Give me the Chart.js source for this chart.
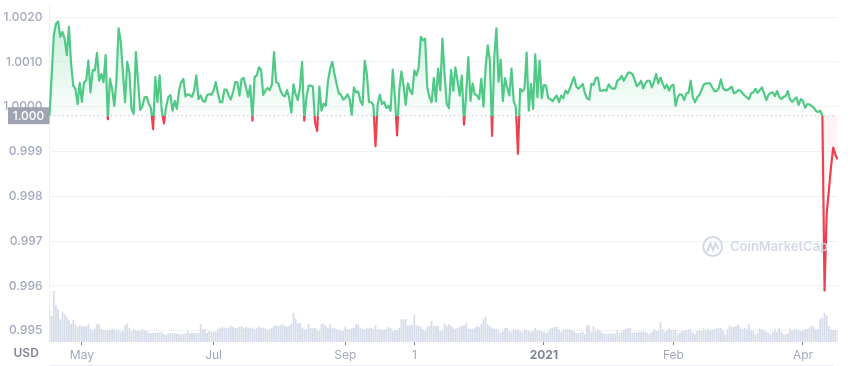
<!DOCTYPE html>
<html>
<head>
<meta charset="utf-8">
<title>USD price chart</title>
<script src="https://cdn.jsdelivr.net/npm/chart.js@4"></script>
<style>
  html, body { margin: 0; padding: 0; background: #fff; }
  canvas { display: block; }
</style>
</head>
<body>
<canvas id="priceChart" width="851" height="366"></canvas>
<script>
// -----------------------------
// Data (one value per day)
// -----------------------------
const prices = [
  0.99980,1.00070,1.00160,1.00185,1.00190,1.00156,1.00167,1.00152,1.00115,1.00178,1.00096,
  1.00047,1.00040,1.00006,1.00053,1.00011,1.00055,1.00058,1.00103,1.00032,1.00082,
  1.00081,1.00120,1.00058,1.00073,1.00055,1.00115,0.99972,1.00062,1.00040,1.00002,
  1.00058,1.00175,1.00145,1.00077,1.00010,1.00100,1.00077,0.99995,0.99984,1.00122,
  1.00058,0.99993,1.00000,1.00021,1.00022,1.00006,0.99997,0.99950,1.00066,1.00010,
  1.00070,0.99991,0.99963,0.99999,1.00021,1.00026,0.99991,1.00013,0.99995,1.00036,
  1.00055,1.00062,1.00023,1.00028,1.00026,1.00022,1.00036,1.00070,1.00017,1.00025,
  1.00013,1.00011,1.00026,1.00028,1.00027,1.00036,1.00055,1.00030,1.00010,1.00010,
  1.00038,1.00038,1.00025,1.00016,1.00032,1.00055,1.00055,1.00025,1.00062,1.00064,
  1.00043,1.00022,1.00047,0.99969,1.00066,1.00070,1.00088,1.00082,1.00026,1.00036,
  1.00042,1.00037,1.00049,1.00122,1.00055,1.00052,1.00036,1.00026,1.00023,1.00037,
  1.00021,
  0.99987,1.00050,1.00028,1.00015,1.00043,1.00100,0.99969,1.00021,1.00047,1.00047,
  1.00045,0.99965,0.99946,1.00045,0.99991,1.00007,1.00002,1.00058,1.00085,1.00100,
  1.00073,1.00051,1.00030,1.00027,1.00016,1.00019,1.00028,1.00017,0.99982,1.00043,
  1.00032,1.00034,1.00013,1.00004,1.00103,1.00073,1.00010,1.00010,1.00004,0.99912,
  1.00006,1.00027,1.00006,1.00011,0.99997,1.00002,0.99991,1.00083,1.00021,0.99936,
  1.00036,1.00079,1.00047,1.00004,1.00052,1.00036,1.00028,1.00081,1.00070,1.00088,
  1.00156,1.00148,1.00152,1.00043,1.00021,1.00010,1.00064,1.00012,1.00085,1.00037,
  1.00152,1.00073,1.00006,0.99997,1.00082,1.00036,1.00088,1.00058,1.00025,1.00070,
  0.99960,1.00028,1.00111,1.00013,1.00052,1.00028,1.00025,1.00017,1.00062,1.00000,
  1.00088,1.00137,1.00103,0.99935,1.00111,1.00175,1.00056,1.00105,1.00013,1.00064,
  1.00042,1.00025,1.00085,1.00013,0.99999,0.99895,1.00040,1.00034,1.00040,1.00121,
  0.99991,1.00051,0.99995,1.00117,1.00021,1.00103,1.00019,1.00049,1.00047,1.00019,
  1.00017,1.00012,1.00019,1.00025,1.00010,1.00025,1.00019,1.00036,1.00030,1.00040,
  1.00055,
  1.00066,1.00045,1.00040,1.00045,1.00051,1.00030,1.00019,1.00016,1.00051,1.00049,
  1.00064,1.00065,1.00036,1.00036,1.00037,1.00036,1.00050,1.00043,1.00040,1.00041,
  1.00058,1.00061,1.00069,1.00058,1.00067,1.00076,1.00076,1.00073,1.00061,1.00046,
  1.00050,1.00058,1.00041,1.00052,1.00058,1.00058,1.00043,1.00056,1.00073,1.00052,
  1.00065,1.00052,1.00041,1.00049,1.00036,1.00047,1.00049,1.00002,1.00022,1.00028,
  1.00026,1.00015,1.00030,1.00031,1.00058,1.00021,1.00010,1.00021,1.00026,1.00037,
  1.00049,1.00052,1.00052,1.00052,1.00043,1.00035,1.00035,1.00041,1.00061,1.00041,
  1.00037,1.00037,1.00041,1.00045,1.00030,1.00032,1.00037,1.00036,1.00030,1.00025,
  1.00021,1.00017,1.00030,1.00032,1.00040,1.00031,1.00037,1.00043,1.00030,1.00015,
  1.00026,1.00031,1.00032,1.00024,1.00035,1.00022,1.00017,1.00022,1.00024,1.00035,
  1.00016,1.00011,1.00016,1.00021,1.00004,1.00017,1.00013,0.99998,1.00006,1.00005,
  1.00002,0.99998,0.99991,0.99988,0.99991,0.99980,
  0.99590,0.99762,0.99813,0.99866,0.99909,0.99893,0.99883
];

// volume in arbitrary units, the picture has no scale for it
const volumes = [
  94,77,152,109,97,67,90,82,74,64,
  54,65,52,44,49,47,46,46,52,39,
  32,39,52,52,39,35,35,35,36,39,
  37,34,35,30,32,49,55,42,32,37,
  35,32,32,37,35,32,27,25,27,27,
  29,27,30,22,20,25,25,25,25,24,
  22,22,22,25,32,25,27,27,25,25,
  52,37,37,27,32,29,30,30,37,40,
  45,42,42,42,47,45,40,42,44,47,
  40,45,42,42,42,37,40,45,42,42,
  40,35,37,42,47,49,47,49,52,47,
  45,47,
  52,87,69,55,55,42,37,37,54,42,
  40,42,35,32,54,54,47,42,52,40,
  40,37,35,35,32,45,37,37,40,42,
  52,52,40,39,37,42,40,42,37,49,
  37,37,35,35,37,45,40,32,35,35,
  42,67,67,67,47,49,50,82,49,47,
  45,37,32,45,47,62,47,47,47,32,
  32,55,47,52,47,42,39,42,44,47,
  49,57,39,39,39,42,47,44,52,67,
  75,52,47,42,39,39,35,27,32,40,
  42,32,29,37,35,37,32,29,37,35,
  32,30,32,42,34,34,30,29,25,30,
  40,42,44,45,37,29,35,37,37,37,
  35,32,25,25,29,29,22,49,49,29,
  47,32,37,32,27,24,22,24,24,25,
  24,34,27,30,35,39,40,42,27,29,
  27,29,29,32,30,27,24,29,37,32,
  32,59,37,29,34,40,35,35,35,22,
  27,32,32,35,37,37,27,22,32,32,
  32,42,35,37,35,35,37,40,40,42,
  34,22,37,49,44,44,47,52,44,37,
  42,37,52,34,32,22,27,39,37,32,
  30,27,22,29,39,29,42,29,22,22,
  25,39,32,37,37,35,32,35,37,37,
  42,49,44,37,37,67,72,87,77,47,
  37,35,35,35
];

const xTickDays = [15, 76, 137, 169, 229, 289, 349];
const xTickLabels = ['May', 'Jul', 'Sep', '1', '2021', 'Feb', 'Apr'];
const yTickValues = [0.995, 0.996, 0.997, 0.998, 0.999, 1.000, 1.001, 1.002];
const yTickLabels = ['0.995', '0.996', '0.997', '0.998', '0.999', '1.0000', '1.0010', '1.0020'];
const baseValue = 0.9998;
const baseLabel = '1.000';
const currencyLabel = 'USD';
const watermarkLabel = 'CoinMarketCap';

// -----------------------------
// Colours and fonts
// -----------------------------
const GREEN = '#50c987';
const RED = '#ee4150';
const GRID = '#eff2f5';
const TICK_TEXT = '#a3a9bc';
const FONT = 'Inter, "Noto Sans", sans-serif';

// one label per day, empty unless the day has a tick
const days = prices.map((_, i) => {
  const at = xTickDays.indexOf(i);
  return at === -1 ? '' : xTickLabels[at];
});

// -----------------------------
// Extras drawn on top: dotted base line, price box, USD, bottom rule, watermark
// -----------------------------
const overlayPlugin = {
  id: 'overlay',
  afterDraw(chart) {
    const { ctx, chartArea, scales } = chart;
    const baseY = scales.y.getPixelForValue(baseValue);
    ctx.save();

    // dotted base line
    ctx.strokeStyle = '#a6adbd';
    ctx.lineWidth = 1;
    ctx.setLineDash([1, 3.4]);
    ctx.beginPath();
    ctx.moveTo(chartArea.left, baseY);
    ctx.lineTo(chartArea.right, baseY);
    ctx.stroke();
    ctx.setLineDash([]);

    // price box on the axis
    ctx.fillStyle = '#a0a4b2';
    ctx.fillRect(8, baseY - 8.5, chartArea.left - 8, 17);
    ctx.fillStyle = '#fff';
    ctx.font = '500 12px ' + FONT;
    ctx.textAlign = 'center';
    ctx.textBaseline = 'middle';
    ctx.fillText(baseLabel, 28.5, baseY + 0.5);

    // currency
    ctx.fillStyle = '#808699';
    ctx.font = '600 12px ' + FONT;
    ctx.textAlign = 'left';
    ctx.fillText(currencyLabel, 13.5, 353);

    // faint rule along the bottom of the page
    ctx.strokeStyle = '#e9edf3';
    ctx.beginPath();
    ctx.moveTo(50, 365.5);
    ctx.lineTo(833, 365.5);
    ctx.stroke();

    // watermark
    ctx.strokeStyle = '#d3d9e6';
    ctx.lineWidth = 2;
    ctx.beginPath();
    ctx.arc(712.7, 246.5, 9.5, 0, Math.PI * 2);
    ctx.stroke();
    ctx.beginPath();
    ctx.moveTo(707, 251.5);
    ctx.lineTo(710.5, 243.5);
    ctx.lineTo(713, 250);
    ctx.lineTo(715.5, 243.5);
    ctx.lineTo(718.5, 249);
    ctx.stroke();
    ctx.fillStyle = '#d3d9e6';
    ctx.font = '600 13px ' + FONT;
    ctx.fillText(watermarkLabel, 730, 247.5);

    ctx.restore();
  }
};

// -----------------------------
// Chart
// -----------------------------
const canvas = document.getElementById('priceChart');
const ctx = canvas.getContext('2d');

const chart = new Chart(ctx, {
  type: 'bar',
  data: {
    labels: days,
    datasets: [
      {
        type: 'line',
        data: prices,
        yAxisID: 'y',
        borderColor: GREEN,
        borderWidth: 2.2,
        borderJoinStyle: 'round',
        pointRadius: 0,
        tension: 0,
        fill: false,
        order: 1
      },
      {
        type: 'bar',
        data: volumes,
        yAxisID: 'yVol',
        backgroundColor: '#d6dcea',
        barThickness: 1.1,
        order: 2
      }
    ]
  },
  options: {
    responsive: false,
    animation: false,
    layout: { padding: { top: 5, right: 13.5 } },
    plugins: { legend: { display: false }, tooltip: { enabled: false } },
    scales: {
      x: {
        type: 'category',
        offset: false,
        grid: {
          offset: false,
          drawOnChartArea: false,
          tickLength: 3,
          tickColor: c => (days[c.index] ? '#7d8498' : 'transparent')
        },
        border: { display: false },
        ticks: {
          autoSkip: false,
          maxRotation: 0,
          padding: 3,
          color: c => (days[c.index] === '2021' ? '#80869a' : TICK_TEXT),
          font: c => ({ family: FONT, size: 12, weight: days[c.index] === '2021' ? '700' : '400' })
        },
        afterFit: scale => { scale.height = 24; scale.paddingLeft = 0; scale.paddingRight = 0; }
      },
      y: {
        position: 'left',
        min: 0.99475,
        max: 1.00227,
        grid: { color: GRID, drawTicks: false },
        border: { display: true, color: GRID },
        ticks: {
          autoSkip: false,
          padding: 7,
          color: TICK_TEXT,
          font: { family: FONT, size: 12, weight: '500' },
          callback: (value, index) => yTickLabels[index]
        },
        afterBuildTicks: scale => { scale.ticks = yTickValues.map(value => ({ value })); },
        afterFit: scale => { scale.width = 49.5; scale.paddingTop = 0; scale.paddingBottom = 0; }
      },
      yVol: {
        display: false,
        min: 0,
        max: 1011
      }
    }
  },
  plugins: [overlayPlugin]
});

// -----------------------------
// Gradients need the laid out scale, so they go in after the first pass.
// The stroke changes colour exactly at the base value.
// -----------------------------
const area = chart.chartArea;
const baseY = chart.scales.y.getPixelForValue(baseValue);
const stop = (baseY - area.top) / (area.bottom - area.top);

const stroke = ctx.createLinearGradient(0, area.top, 0, area.bottom);
stroke.addColorStop(0, GREEN);
stroke.addColorStop(stop, GREEN);
stroke.addColorStop(stop, RED);
stroke.addColorStop(1, RED);

const fillAbove = ctx.createLinearGradient(0, area.top, 0, baseY);
fillAbove.addColorStop(0, 'rgba(80,201,135,0.34)');
fillAbove.addColorStop(1, 'rgba(80,201,135,0.02)');

const fillBelow = ctx.createLinearGradient(0, baseY, 0, chart.scales.y.getPixelForValue(0.997));
fillBelow.addColorStop(0, 'rgba(238,65,80,0.07)');
fillBelow.addColorStop(1, 'rgba(238,65,80,0)');

chart.data.datasets[0].borderColor = stroke;
chart.data.datasets[0].fill = { target: { value: baseValue }, above: fillAbove, below: fillBelow };
chart.update('none');
</script>
</body>
</html>
